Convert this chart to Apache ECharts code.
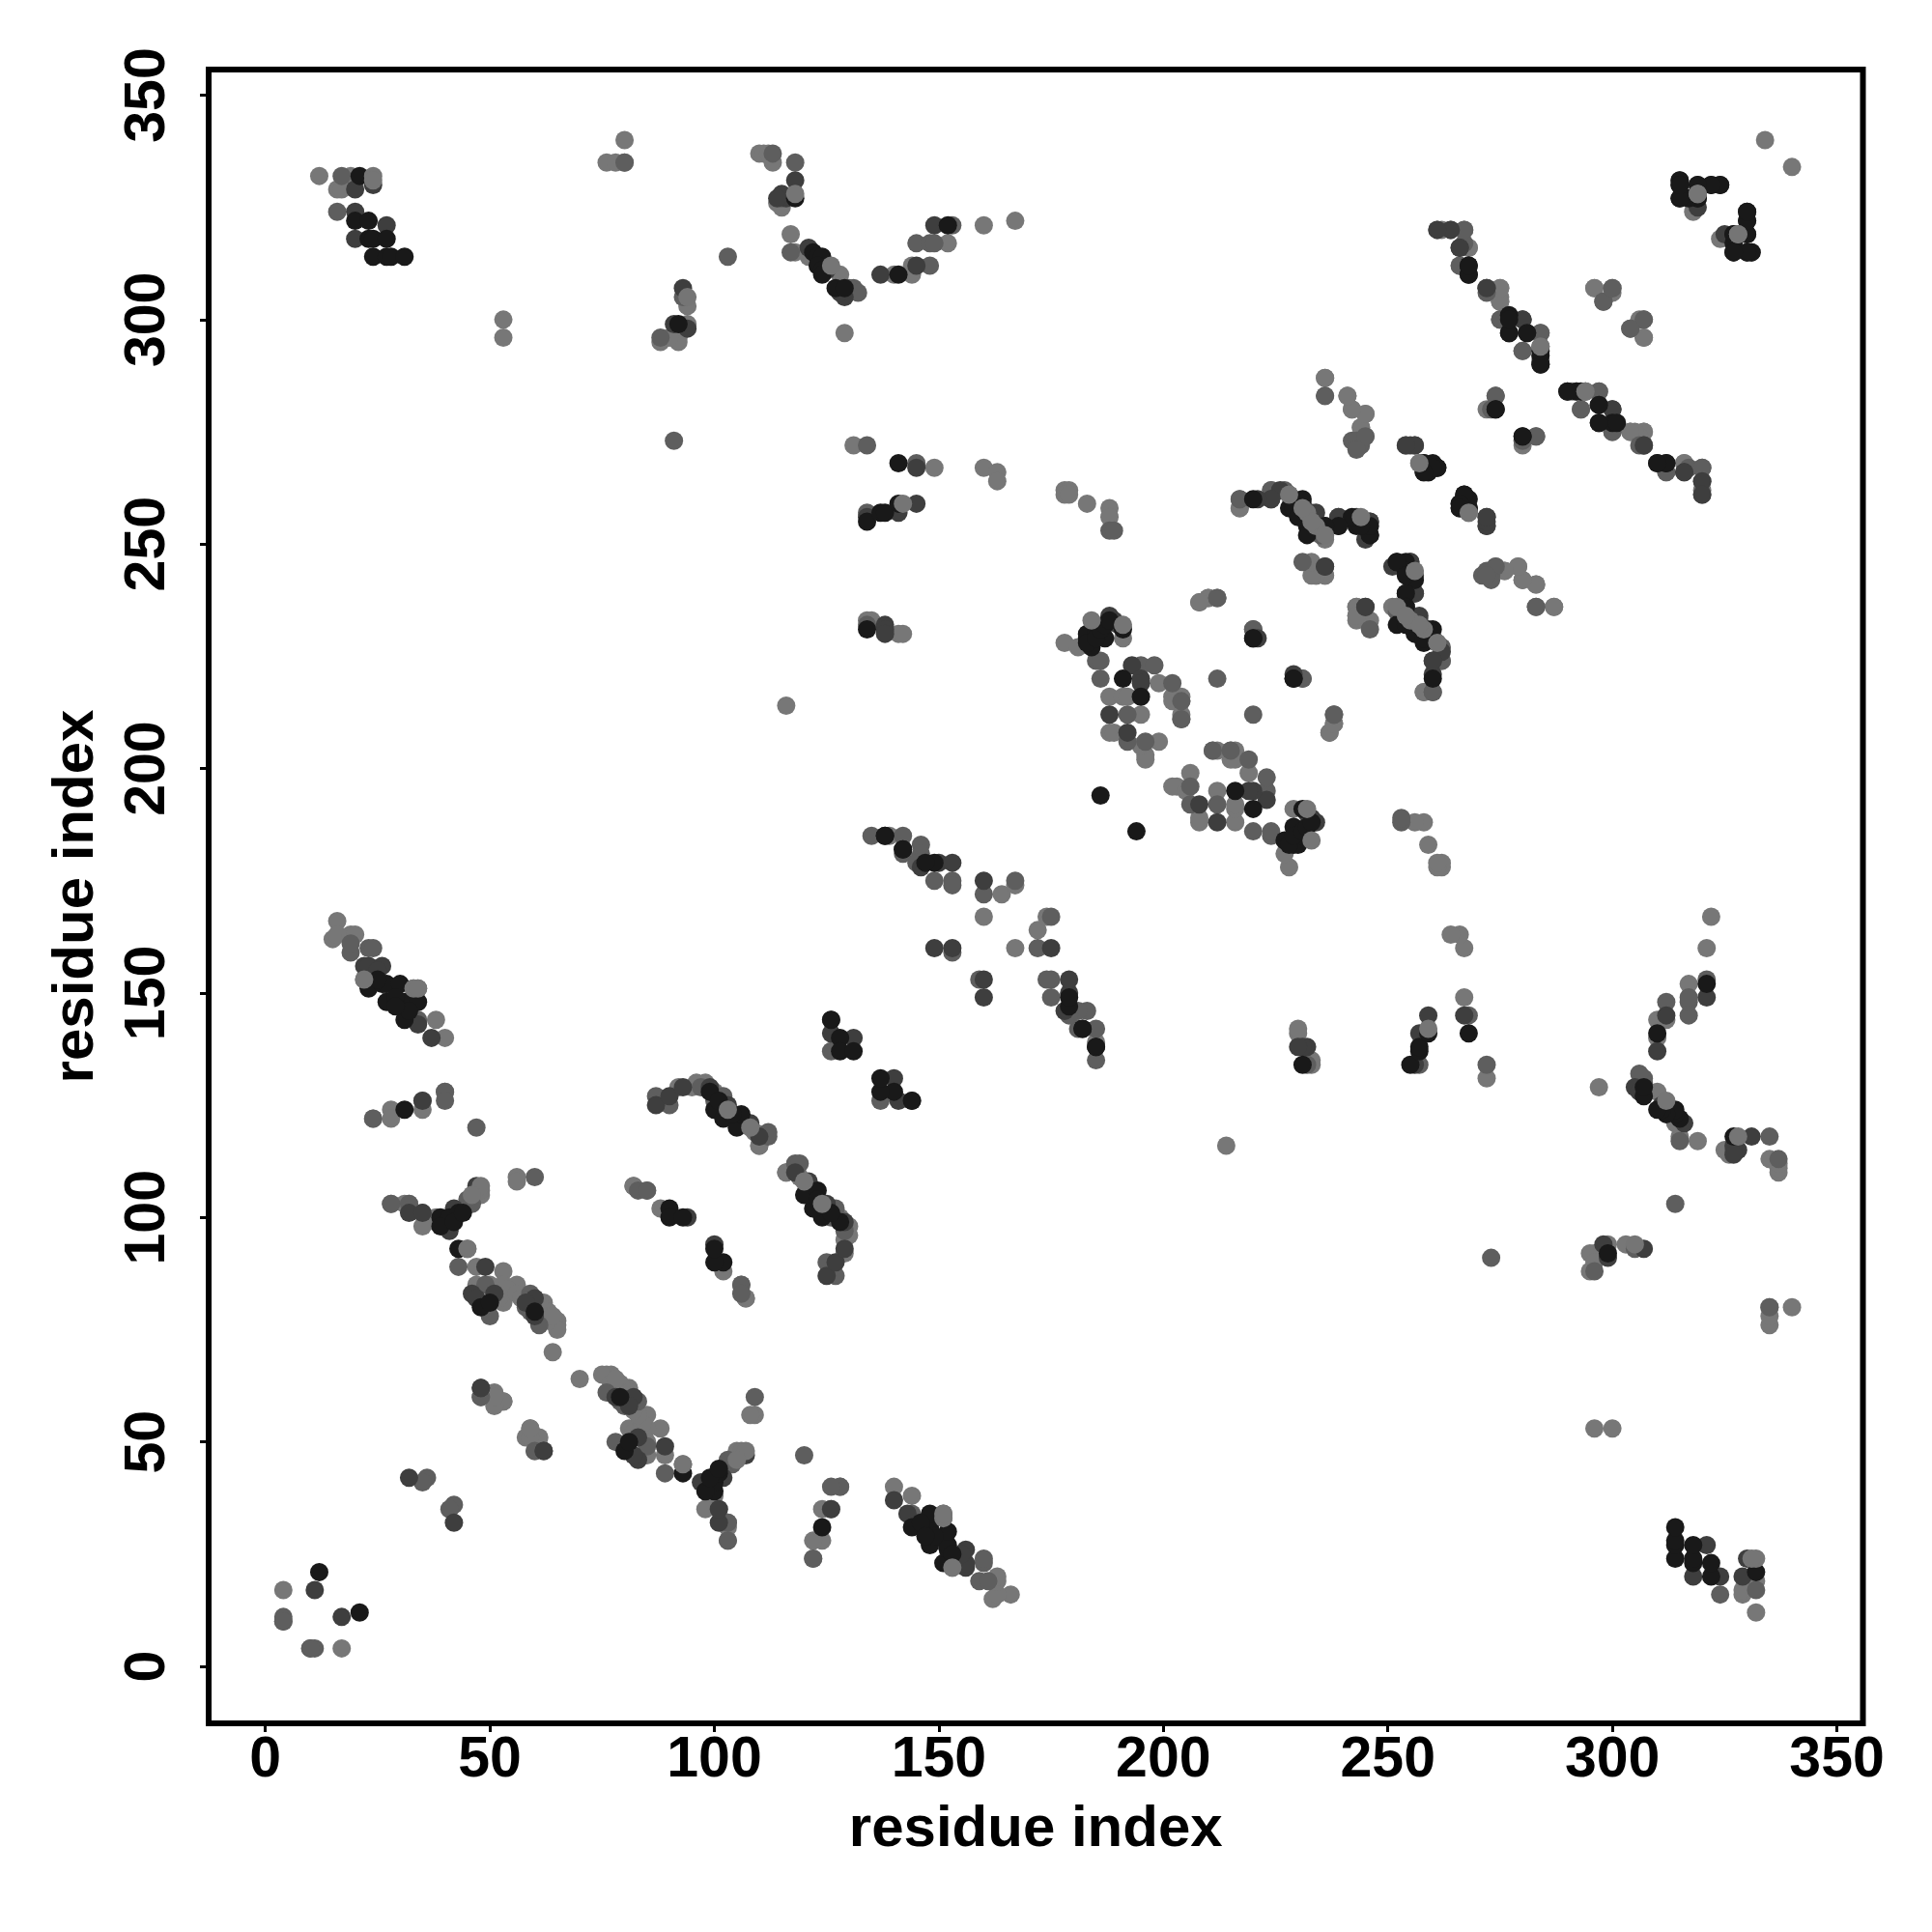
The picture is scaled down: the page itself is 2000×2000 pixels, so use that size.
<!DOCTYPE html>
<html><head><meta charset="utf-8">
<script src="https://cdn.jsdelivr.net/npm/echarts@6/dist/echarts.min.js"></script>
<style>html,body{margin:0;padding:0;background:#fff}#c{width:2000px;height:2000px}</style></head>
<body><div id="c"></div>
<script>
const tickValues = [0,50,100,150,200,250,300,350];
const xTitle = "residue index";
const yTitle = "residue index";
const contactsLight = [[12,332],[16,329],[17,329],[19,332],[76,335],[78,335],[80,340],[53,300],[53,296],[94,303],[94,299],[92,296],[92,295],[90,296],[88,295],[110,337],[111,337],[112,337],[113,335],[114,326],[115,325],[117,319],[118,315],[121,314],[128,310],[129,297],[140,310],[144,310],[144,312],[152,317],[160,321],[167,322],[131,272],[149,267],[160,267],[163,266],[163,264],[178,262],[179,262],[178,261],[179,261],[183,259],[188,258],[188,256],[217,258],[208,237],[210,238],[134,233],[135,233],[141,230],[142,230],[178,228],[181,227],[191,229],[199,219],[202,216],[204,216],[204,215],[202,215],[204,212],[204,211],[188,216],[191,216],[192,216],[195,212],[188,208],[189,208],[199,206],[196,203],[196,202],[195,205],[139,185],[164,172],[167,174],[160,167],[16,166],[15,162],[16,163],[19,163],[20,163],[22,153],[38,144],[40,140],[28,124],[28,122],[35,124],[92,129],[95,129],[96,130],[98,130],[100,128],[109,119],[110,116],[116,110],[116,214],[56,109],[56,108],[45,93],[47,89],[53,88],[31,103],[38,99],[38,100],[35,98],[47,85],[53,85],[53,81],[56,85],[62,81],[63,79],[65,77],[65,76],[65,75],[64,70],[49,61],[51,61],[51,59],[53,59],[59,53],[58,51],[60,51],[60,48],[4,17],[82,107],[85,106],[88,102],[107,82],[334,340],[318,326],[318,324],[268,316],[266,312],[275,307],[274,306],[275,305],[275,304],[296,307],[307,296],[306,300],[280,293],[284,294],[284,291],[236,287],[241,283],[242,280],[245,279],[244,276],[245,274],[257,268],[236,252],[233,245],[236,243],[234,243],[276,244],[279,245],[280,242],[283,241],[287,236],[243,236],[243,234],[243,233],[251,236],[255,233],[257,233],[246,233],[262,224],[258,217],[238,210],[237,208],[292,284],[294,284],[304,275],[307,275],[316,268],[320,262],[80,335],[40,128],[35,126],[24,122],[28,103],[32,103],[35,101],[272,280],[50,85],[52,82],[54,84],[56,83],[57,82],[62,78],[63,77],[64,78],[61,81],[48,105],[47,105]];
const contactsMid = [[17,332],[16,324],[103,314],[93,305],[88,296],[91,273],[113,337],[118,335],[117,315],[115,327],[131,307],[130,307],[132,306],[145,317],[148,317],[149,317],[148,312],[153,321],[134,272],[145,268],[134,257],[134,232],[188,253],[189,253],[217,260],[224,262],[227,262],[212,238],[185,224],[186,224],[186,220],[195,223],[198,223],[202,219],[192,212],[192,206],[196,206],[212,220],[215,204],[211,204],[135,185],[142,185],[142,181],[146,183],[146,181],[145,179],[149,175],[153,175],[153,174],[160,172],[167,175],[153,159],[19,159],[19,161],[23,160],[24,160],[34,144],[33,151],[34,151],[24,122],[40,128],[40,126],[47,120],[87,127],[90,125],[102,127],[112,119],[118,112],[60,109],[28,103],[32,103],[43,89],[49,85],[45,104],[50,78],[59,83],[61,76],[48,60],[36,42],[35,41],[4,11],[4,10],[10,4],[83,106],[106,85],[261,320],[264,320],[267,320],[272,307],[275,300],[284,297],[300,307],[298,304],[304,298],[307,300],[274,283],[283,274],[280,273],[236,283],[242,273],[243,272],[254,272],[297,284],[293,280],[300,275],[307,272],[306,272],[312,266],[317,267],[320,267],[272,244],[273,243],[274,245],[271,243],[283,236],[252,235],[261,228],[260,217],[238,212],[80,335],[231,246],[220,231],[231,220],[126,137],[97,129],[100,126],[102,125],[105,122],[107,121],[58,80],[59,79],[46,103],[28,150]];
const contactsDark = [[20,329],[20,324],[27,321],[20,318],[24,330],[93,307],[94,298],[91,299],[118,331],[115,328],[116,327],[114,327],[121,316],[125,311],[129,305],[128,306],[137,310],[145,312],[149,321],[141,257],[145,259],[145,267],[134,256],[138,232],[138,231],[224,260],[193,223],[195,220],[195,219],[188,212],[192,208],[188,234],[138,230],[146,178],[150,179],[153,179],[160,175],[149,160],[153,160],[22,156],[23,156],[26,156],[34,143],[37,140],[35,126],[126,144],[126,141],[131,140],[87,125],[90,127],[93,129],[99,129],[103,125],[108,121],[32,101],[35,101],[42,102],[47,107],[41,97],[49,89],[46,83],[47,82],[51,83],[60,82],[58,81],[48,62],[62,48],[32,42],[11,17],[94,100],[319,325],[331,315],[266,316],[280,300],[307,272],[297,281],[300,280],[316,266],[320,264],[320,261],[255,272],[256,272],[272,256],[272,254],[239,256],[239,254],[243,256],[234,255],[245,251],[255,246],[256,239],[236,245],[245,236],[221,229],[234,257],[259,231],[262,226],[260,224],[260,221],[236,254],[246,255],[230,259],[110,118],[25,155],[60,78],[189,233],[190,232]];
const contactsBlack = [[21,332],[20,322],[23,322],[23,318],[24,318],[27,318],[24,314],[27,314],[28,314],[31,314],[92,299],[118,327],[122,315],[123,314],[124,314],[123,312],[124,311],[124,310],[127,307],[129,307],[141,310],[141,268],[152,321],[134,255],[137,257],[138,257],[141,259],[134,231],[220,260],[229,260],[228,258],[229,258],[231,260],[232,254],[183,229],[184,227],[184,229],[183,230],[185,230],[186,230],[187,229],[191,231],[191,220],[195,216],[186,194],[138,185],[142,182],[149,179],[179,147],[182,142],[12,21],[185,138],[23,151],[26,152],[27,152],[30,152],[27,148],[30,148],[31,148],[34,148],[31,144],[31,124],[100,124],[102,122],[105,120],[106,123],[39,100],[41,100],[43,101],[39,98],[43,93],[48,80],[50,81],[60,79],[90,102],[90,100],[93,100],[126,144],[128,140],[128,137],[131,137],[315,331],[315,330],[315,327],[319,330],[322,330],[324,330],[319,327],[330,324],[330,322],[330,319],[327,319],[327,317],[327,315],[330,315],[268,312],[268,310],[277,301],[277,297],[281,297],[284,292],[284,290],[274,280],[280,274],[258,268],[260,268],[261,267],[259,266],[258,266],[267,261],[266,259],[268,258],[267,260],[266,258],[290,284],[293,284],[297,277],[300,277],[310,268],[312,268],[246,252],[252,246],[254,246],[254,244],[256,242],[254,239],[254,236],[254,234],[252,232],[256,230],[220,229],[229,220],[99,128],[101,126],[104,123],[25,153],[29,149],[32,146],[29,147],[42,99],[44,101],[183,228],[185,229],[186,231],[187,232],[188,233],[243,254]];
const contactsLightTop = [[24,332],[24,331],[94,305],[118,328],[126,312],[142,259],[191,232],[184,233],[319,328],[33,151],[34,151],[22,153],[256,244],[328,319],[284,294],[257,268],[45,93],[48,106],[48,107],[46,105],[252,236],[255,233],[258,231],[261,228],[232,257],[234,254],[108,120],[103,124]];

const shades = ["#777777","#5e5e5e","#3e3e3e","#191919","#757575"];
const groups = [contactsLight,contactsMid,contactsDark,contactsBlack,contactsLightTop];
const bothSides = pairs => pairs.concat(pairs.map(p => [p[1],p[0]]));

const axisCommon = {
  type:"value", nameLocation:"middle",
  splitLine:{show:false}, axisLine:{show:false,onZero:false},
  axisTick:{show:true,length:9,inside:false,lineStyle:{color:"#000",width:3},customValues:tickValues},
  nameTextStyle:{fontFamily:"Liberation Sans",fontWeight:"bold",fontSize:60,color:"#000"}
};
const labelCommon = {fontFamily:"Liberation Sans",fontWeight:"bold",fontSize:59,color:"#000",customValues:tickValues};

const chart = echarts.init(document.getElementById("c"),null,{renderer:"canvas"});
chart.setOption({
  animation:false, backgroundColor:"#fff",
  grid:{left:216,right:71.5,top:72,bottom:216,show:true,borderColor:"#000",borderWidth:6,backgroundColor:"transparent",z:10},
  xAxis:Object.assign({},axisCommon,{min:-12.63,max:355.8,name:xTitle,nameGap:80,
    axisLabel:Object.assign({},labelCommon,{margin:9})}),
  yAxis:Object.assign({},axisCommon,{min:-12.7,max:355.7,name:yTitle,nameGap:107,
    axisLabel:Object.assign({},labelCommon,{rotate:90,margin:33,align:"center",verticalAlign:"bottom"})}),
  series:groups.map((g,i)=>({
    type:"scatter",symbol:"circle",symbolSize:19,silent:true,
    itemStyle:{color:shades[i],opacity:1},
    data:bothSides(g),z:2+i,large:false
  }))
});
</script></body></html>
